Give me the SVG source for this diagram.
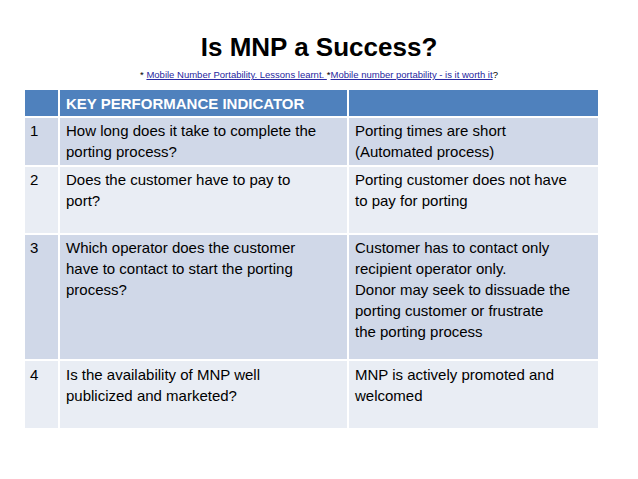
<svg xmlns="http://www.w3.org/2000/svg" width="638" height="479" viewBox="0 0 638 479">
<style>
text{font-family:"Liberation Sans",Arial,sans-serif;}
.t{font-size:15px;fill:#000;}
.h{font-size:15px;fill:#fff;font-weight:bold;}
.a{fill:#D0D8E8;}
.b{fill:#E9EDF4;}
.l{stroke:#fff;stroke-width:2;}
.u{fill:#1F1FA0;text-decoration:underline;}
</style>
<rect width="638" height="479" fill="#fff"/>
<g id="title">
<text x="319" y="56" text-anchor="middle" font-size="26" font-weight="bold">Is MNP a Success?</text>
<text x="319" y="78" text-anchor="middle" font-size="9.5">* <tspan class="u">Mobile Number Portability. Lessons learnt. </tspan>*<tspan class="u">Mobile number portability - is it worth it</tspan>?</text>
</g>
<g id="table">
<rect x="25" y="90" width="573" height="27" fill="#4F81BD"/>
<rect class="a" x="25" y="117" width="573" height="49"/>
<rect class="b" x="25" y="166" width="573" height="68"/>
<rect class="a" x="25" y="234" width="573" height="126"/>
<rect class="b" x="25" y="360" width="573" height="68"/>
<g class="l">
<line x1="59" y1="90" x2="59" y2="428"/>
<line x1="348" y1="90" x2="348" y2="428"/>
<line x1="25" y1="117" x2="598" y2="117"/>
<line x1="25" y1="166" x2="598" y2="166"/>
<line x1="25" y1="234" x2="598" y2="234"/>
<line x1="25" y1="360" x2="598" y2="360"/>
</g>
<text class="h" x="66" y="109">KEY PERFORMANCE INDICATOR</text>
<g class="t">
<text x="30" y="136">1</text>
<text x="66" y="136">How long does it take to complete the</text>
<text x="66" y="157">porting process?</text>
<text x="355" y="136">Porting times are short</text>
<text x="355" y="157">(Automated process)</text>
<text x="30" y="185">2</text>
<text x="66" y="185">Does the customer have to pay to</text>
<text x="66" y="206">port?</text>
<text x="355" y="185">Porting customer does not have</text>
<text x="355" y="206">to pay for porting</text>
<text x="30" y="253">3</text>
<text x="66" y="253">Which operator does the customer</text>
<text x="66" y="274">have to contact to start the porting</text>
<text x="66" y="295">process?</text>
<text x="355" y="253">Customer has to contact only</text>
<text x="355" y="274">recipient operator only.</text>
<text x="355" y="295">Donor may seek to dissuade the</text>
<text x="355" y="316">porting customer or frustrate</text>
<text x="355" y="337">the porting process</text>
<text x="30" y="380">4</text>
<text x="66" y="380">Is the availability of MNP well</text>
<text x="66" y="401">publicized and marketed?</text>
<text x="355" y="380">MNP is actively promoted and</text>
<text x="355" y="401">welcomed</text>
</g>
</g>
</svg>
